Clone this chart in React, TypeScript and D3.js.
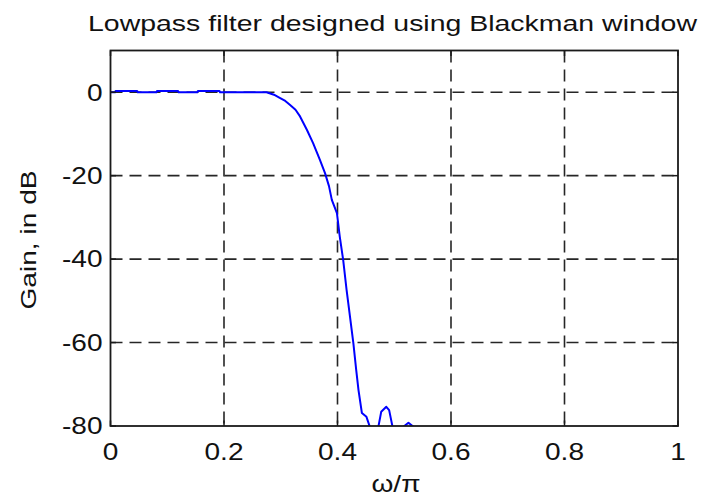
import React from 'react';
import * as d3 from 'd3';

const xTicks = [0, 0.2, 0.4, 0.6, 0.8, 1];
const xTickLabels = ['0', '0.2', '0.4', '0.6', '0.8', '1'];
const yTicks = [0, -20, -40, -60, -80];
const yTickLabels = ['0', '-20', '-40', '-60', '-80'];

// normalized frequency (omega/pi)
const freq = [
  0, 0.008, 0.009, 0.047, 0.048, 0.081, 0.082, 0.119, 0.12, 0.153, 0.154, 0.192, 0.193,
  0.275, 0.288, 0.299, 0.308, 0.316, 0.326, 0.334, 0.346, 0.357, 0.369, 0.378, 0.385,
  0.39, 0.399, 0.404, 0.41, 0.416, 0.422, 0.428, 0.433, 0.437, 0.443, 0.451, 0.457,
  0.463, 0.472, 0.477, 0.486, 0.491, 0.497, 0.505, 0.516, 0.525, 0.534, 0.545, 0.56,
  0.6, 0.7, 0.8, 0.9, 1.0,
];
// gain in dB
const gainDb = [
  0, 0, 0.3, 0.3, 0, 0, 0.3, 0.3, 0, 0, 0.3, 0.3, 0,
  0, -0.6, -1.4, -2.1, -3.0, -4.2, -5.8, -9.0, -12.2, -16.2, -19.4, -22.5,
  -25.8, -29.0, -34.6, -40.2, -47.4, -53.8, -60.2, -66.6, -71.4, -76.9, -77.8, -80.2,
  -98, -80.2, -76.6, -75.4, -76.2, -80.2, -95, -80.2, -79.2, -80.2, -97, -86,
  -92, -95, -98, -100, -102,
];

const FONT = '"Liberation Sans", Arial, Helvetica, sans-serif';

export default function App() {
  const W = 703;
  const H = 499;
  const left = 110.5, right = 678, top = 50.5, bottom = 426;
  const x = d3.scaleLinear().domain([0, 1]).range([left, right]);
  const y = d3.scaleLinear().domain([-80, 10]).range([bottom, top]);
  const pts = freq.map((f, i) => [f, gainDb[i]] as [number, number]);
  const line = d3.line<[number, number]>().x(d => x(d[0])).y(d => y(d[1]));
  const tickLen = 5.5;
  const sx = 1.22;
  const fs = 23;

  return (
    <svg width={W} height={H} style={{ position: 'absolute', left: 0, top: 0, background: '#fff' }}>
      <defs>
        <clipPath id="plot">
          <rect x={left} y={top} width={right - left} height={bottom - top} />
        </clipPath>
        <clipPath id="titleclip">
          <rect x={0} y={15} width={W} height={40} />
        </clipPath>
      </defs>
      <rect x={0} y={0} width={W} height={H} fill="#fff" />

      {/* grid */}
      <g stroke="#262626" strokeWidth={1.6} strokeDasharray="12,7" fill="none">
        {xTicks.slice(1, -1).map(t => (
          <line key={'gx' + t} x1={x(t)} x2={x(t)} y1={top} y2={bottom} />
        ))}
        {yTicks.slice(0, -1).map(t => (
          <line key={'gy' + t} x1={left} x2={right} y1={y(t)} y2={y(t)} />
        ))}
      </g>

      {/* curve */}
      <path d={line(pts) || ''} fill="none" stroke="#0000ff" strokeWidth={2} strokeLinejoin="round" clipPath="url(#plot)" />

      {/* box */}
      <rect x={left} y={top} width={right - left} height={bottom - top} fill="none" stroke="#1a1a1a" strokeWidth={1.8} />

      {/* ticks */}
      <g stroke="#1a1a1a" strokeWidth={1.5}>
        {xTicks.map(t => (
          <g key={'tx' + t}>
            <line x1={x(t)} x2={x(t)} y1={bottom} y2={bottom - tickLen} />
            <line x1={x(t)} x2={x(t)} y1={top} y2={top + tickLen} />
          </g>
        ))}
        {yTicks.map(t => (
          <g key={'ty' + t}>
            <line x1={left} x2={left + tickLen} y1={y(t)} y2={y(t)} />
            <line x1={right} x2={right - tickLen} y1={y(t)} y2={y(t)} />
          </g>
        ))}
      </g>

      {/* tick labels */}
      <g fontFamily={FONT} fontSize={fs} fill="#111">
        {xTicks.map((t, i) => (
          <text key={'lx' + t} transform={`translate(${x(t)},${460}) scale(${sx},1)`} textAnchor="middle">
            {xTickLabels[i]}
          </text>
        ))}
        {yTicks.map((t, i) => (
          <text key={'ly' + t} transform={`translate(${102.5},${y(t) + 8.3}) scale(${sx},1)`} textAnchor="end">
            {yTickLabels[i]}
          </text>
        ))}
      </g>

      {/* title */}
      <g clipPath="url(#titleclip)">
        <text x={88} y={30.5} fontFamily={FONT} fontSize={22.5} fill="#111" textLength={609} lengthAdjust="spacingAndGlyphs">
          Lowpass filter designed using Blackman window
        </text>
      </g>

      {/* axis labels */}
      <text transform={`translate(${396},${492}) scale(${sx},1)`} textAnchor="middle" fontFamily={FONT} fontSize={fs} fill="#111">
        ω/π
      </text>
      <text transform={`translate(${35.5},${240}) rotate(-90) scale(1.25,1)`} textAnchor="middle" fontFamily={FONT} fontSize={22.5} fill="#111">
        Gain, in dB
      </text>
    </svg>
  );
}
